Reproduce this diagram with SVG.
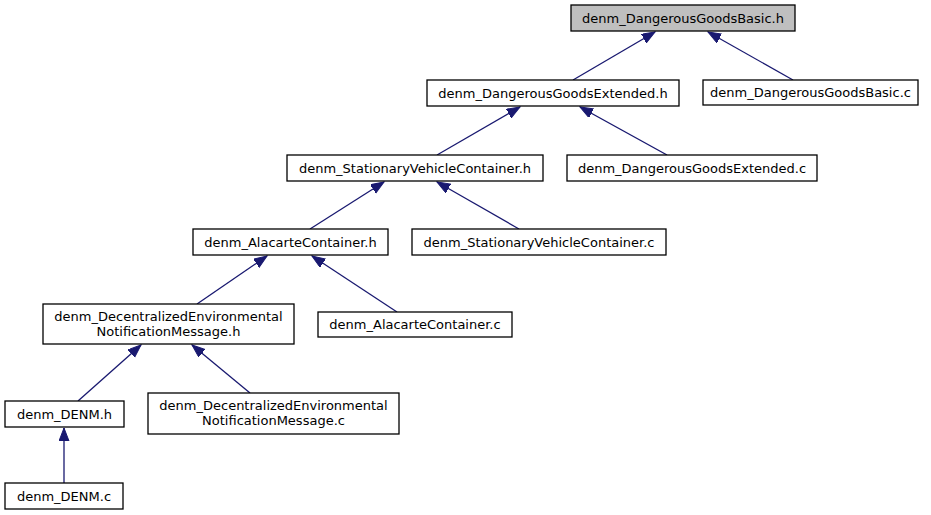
<svg xmlns="http://www.w3.org/2000/svg" width="931" height="515" viewBox="0 0 931 515">
<style>
.n rect{fill:#fff;stroke:#000;stroke-width:1.3}
.n.root rect{fill:#bfbfbf}
.n text{font-family:"DejaVu Sans",sans-serif;font-size:13px;fill:#000;text-anchor:middle}
.e{stroke:#191970;stroke-width:1.3;fill:none;marker-end:url(#ah)}
</style>
<defs>
<marker id="ah" markerUnits="userSpaceOnUse" markerWidth="14" markerHeight="12" refX="13" refY="5" orient="auto">
<path d="M0,0 L13,5 L0,10 Z" fill="#191970" stroke="#191970" stroke-width="1"/>
</marker>
</defs>
<rect width="931" height="515" fill="#fff"/>
<g id="edges">
<path class="e" d="M573,80 L655,32"/>
<path class="e" d="M793,80 L708,32"/>
<path class="e" d="M437,155 L520,107"/>
<path class="e" d="M667,155 L580,107"/>
<path class="e" d="M310,229 L384,182"/>
<path class="e" d="M519,229 L437,182"/>
<path class="e" d="M197,304 L267,256"/>
<path class="e" d="M397,312 L312,256"/>
<path class="e" d="M78,401 L141,345"/>
<path class="e" d="M250,393 L192,345"/>
<path class="e" d="M64,483 L64,428"/>
</g>
<g id="n1" class="n root"><rect x="571" y="5" width="224" height="26"/><text x="683" y="23">denm_DangerousGoodsBasic.h</text></g>
<g id="n2" class="n"><rect x="427" y="80" width="252" height="26"/><text x="553" y="98">denm_DangerousGoodsExtended.h</text></g>
<g id="n3" class="n"><rect x="703" y="80" width="215" height="25"/><text x="810.5" y="97">denm_DangerousGoodsBasic.c</text></g>
<g id="n4" class="n"><rect x="287" y="155" width="256" height="26"/><text x="415" y="173">denm_StationaryVehicleContainer.h</text></g>
<g id="n5" class="n"><rect x="567" y="155" width="250" height="26"/><text x="692" y="173">denm_DangerousGoodsExtended.c</text></g>
<g id="n6" class="n"><rect x="193" y="229" width="195" height="26"/><text x="290.5" y="247">denm_AlacarteContainer.h</text></g>
<g id="n7" class="n"><rect x="412" y="229" width="254" height="26"/><text x="539" y="247">denm_StationaryVehicleContainer.c</text></g>
<g id="n8" class="n"><rect x="43" y="304" width="251" height="40"/><text x="168.5" y="321">denm_DecentralizedEnvironmental</text><text x="168.5" y="336">NotificationMessage.h</text></g>
<g id="n9" class="n"><rect x="318" y="312" width="194" height="25"/><text x="415" y="329">denm_AlacarteContainer.c</text></g>
<g id="n10" class="n"><rect x="5" y="401" width="119" height="26"/><text x="64.5" y="419">denm_DENM.h</text></g>
<g id="n11" class="n"><rect x="148" y="393" width="251" height="41"/><text x="273.5" y="410">denm_DecentralizedEnvironmental</text><text x="273.5" y="425">NotificationMessage.c</text></g>
<g id="n12" class="n"><rect x="5" y="483" width="118" height="26"/><text x="64" y="501">denm_DENM.c</text></g>
</svg>
